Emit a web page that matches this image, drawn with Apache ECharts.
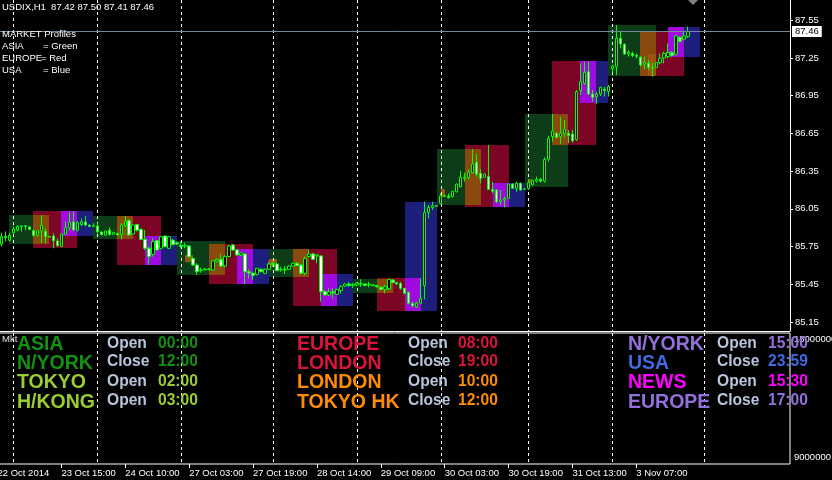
<!DOCTYPE html>
<html><head><meta charset="utf-8">
<script src="https://cdn.jsdelivr.net/npm/echarts@6/dist/echarts.min.js"></script>
<style>html,body{margin:0;padding:0;background:#000;}#c{width:832px;height:480px;}</style>
</head><body><div id="c"></div>
<script>
// ---- DATA ----
const opens = [85.77,85.83,85.80,85.86,85.88,85.91,85.915,85.905,85.875,85.84,85.876,85.87,85.83,85.834,85.794,85.75,85.85,85.90,85.945,85.88,85.925,85.945,85.92,85.91,85.913,85.866,85.84,85.88,85.847,85.855,85.847,85.916,85.956,85.85,85.925,85.887,85.807,85.736,85.688,85.797,85.736,85.834,85.736,85.80,85.78,85.76,85.755,85.754,85.656,85.603,85.56,85.565,85.57,85.563,85.635,85.648,85.595,85.67,85.762,85.723,85.683,85.691,85.55,85.537,85.529,85.569,85.537,85.569,85.611,85.611,85.565,85.568,85.569,85.595,85.617,85.603,85.537,85.67,85.691,85.675,85.675,85.391,85.365,85.391,85.37,85.40,85.436,85.452,85.44,85.445,85.455,85.452,85.445,85.445,85.438,85.426,85.41,85.415,85.484,85.463,85.457,85.418,85.386,85.298,85.27,85.30,85.44,86.02,86.062,86.075,86.094,86.15,86.15,86.147,86.186,86.226,86.29,86.298,86.34,86.42,86.332,86.30,86.306,86.205,86.2,86.107,86.12,86.133,86.247,86.213,86.253,86.205,86.21,86.24,86.27,86.284,86.27,86.443,86.624,86.65,86.624,86.65,86.65,86.645,86.60,86.99,87.05,87.141,86.963,86.94,86.963,87.0,86.985,87.165,87.18,87.406,87.358,87.281,87.286,87.27,87.255,87.2,87.207,87.175,87.175,87.212,87.25,87.26,87.294,87.28,87.414,87.40,87.42];
const highs = [85.86,85.87,85.86,85.91,85.92,85.915,85.915,85.91,85.887,85.88,86.00,85.895,85.835,85.855,85.815,85.855,85.95,86.02,86.027,85.95,85.974,85.993,85.925,85.935,85.935,85.87,85.88,85.903,85.866,85.858,85.935,85.993,85.966,85.925,85.93,85.895,85.882,85.749,85.815,85.80,85.835,85.84,85.835,85.81,85.79,85.79,85.78,85.762,85.665,85.617,85.582,85.58,85.58,85.64,85.655,85.691,85.683,85.762,85.77,85.73,85.705,85.696,85.569,85.55,85.58,85.575,85.575,85.63,85.63,85.615,85.59,85.595,85.60,85.62,85.625,85.61,85.67,85.723,85.70,85.69,85.68,85.405,85.418,85.418,85.415,85.444,85.46,85.47,85.46,85.465,85.49,85.455,85.47,85.45,85.445,85.43,85.444,85.495,85.49,85.47,85.47,85.42,85.39,85.31,85.31,85.497,86.107,86.08,86.107,86.08,86.173,86.16,86.173,86.19,86.25,86.353,86.337,86.364,86.526,86.486,86.364,86.33,86.557,86.266,86.205,86.2,86.147,86.25,86.25,86.266,86.26,86.215,86.284,86.28,86.306,86.295,86.459,86.629,86.804,86.66,86.783,86.756,86.677,86.677,86.995,87.207,87.22,87.22,86.995,86.98,87.021,87.02,87.035,87.194,87.512,87.459,87.365,87.313,87.30,87.286,87.265,87.26,87.233,87.212,87.215,87.286,87.30,87.366,87.305,87.432,87.42,87.459,87.50];
const lows = [85.75,85.79,85.79,85.855,85.87,85.87,85.88,85.88,85.829,85.83,85.78,85.776,85.82,85.736,85.749,85.745,85.842,85.88,85.876,85.87,85.913,85.913,85.905,85.905,85.855,85.84,85.835,85.839,85.845,85.84,85.807,85.908,85.84,85.845,85.87,85.80,85.723,85.603,85.67,85.72,85.73,85.745,85.73,85.76,85.765,85.736,85.736,85.669,85.60,85.524,85.542,85.56,85.56,85.56,85.625,85.59,85.585,85.665,85.717,85.68,85.672,85.452,85.497,85.484,85.52,85.545,85.53,85.563,85.59,85.555,85.55,85.532,85.565,85.59,85.595,85.53,85.524,85.665,85.645,85.617,85.312,85.36,85.357,85.338,85.365,85.378,85.43,85.43,85.42,85.435,85.43,85.435,85.426,85.435,85.425,85.405,85.378,85.405,85.46,85.445,85.405,85.37,85.29,85.265,85.262,85.295,85.33,85.974,86.04,86.065,86.088,86.145,86.13,86.14,86.18,86.22,86.266,86.284,86.332,86.306,86.253,86.295,86.2,86.173,86.094,86.08,86.062,86.13,86.21,86.186,86.195,86.2,86.2,86.235,86.258,86.26,86.258,86.425,86.584,86.61,86.565,86.618,86.571,86.576,86.59,86.955,87.035,86.955,86.902,86.884,86.947,86.942,86.942,87.133,87.114,87.326,87.275,87.26,87.255,87.247,87.18,87.16,87.154,87.1,87.17,87.2,87.207,87.247,87.26,87.27,87.375,87.39,87.41];
const closes = [85.83,85.82,85.84,85.89,85.91,85.915,85.91,85.887,85.84,85.876,85.92,85.83,85.826,85.797,85.757,85.85,85.90,85.94,85.882,85.94,85.948,85.921,85.91,85.915,85.868,85.845,85.874,85.845,85.863,85.842,85.921,85.953,85.842,85.921,85.88,85.807,85.736,85.67,85.789,85.723,85.829,85.749,85.829,85.765,85.77,85.75,85.76,85.669,85.603,85.55,85.565,85.57,85.568,85.635,85.648,85.595,85.67,85.754,85.723,85.683,85.70,85.55,85.54,85.521,85.577,85.55,85.569,85.611,85.617,85.558,85.57,85.563,85.595,85.617,85.60,85.537,85.656,85.691,85.648,85.683,85.391,85.365,85.391,85.38,85.41,85.431,85.452,85.44,85.45,85.46,85.452,85.44,85.45,85.44,85.43,85.41,85.43,85.489,85.465,85.452,85.418,85.378,85.30,85.28,85.30,85.338,86.02,86.062,86.075,86.07,86.152,86.155,86.14,86.189,86.247,86.30,86.30,86.34,86.406,86.327,86.292,86.327,86.205,86.19,86.107,86.12,86.13,86.247,86.213,86.253,86.2,86.21,86.258,86.274,86.284,86.27,86.443,86.61,86.669,86.62,86.65,86.682,86.634,86.592,86.982,87.061,87.133,86.963,86.937,86.96,87.016,86.99,87.021,87.186,87.406,87.361,87.281,87.294,87.27,87.263,87.194,87.215,87.175,87.17,87.212,87.247,87.286,87.294,87.27,87.424,87.38,87.424,87.46];

// session boxes: bar range, price range, kind (0 Asia, 1 Europe, 2 USA, 3 London/Tokyo overlap, 4 N.York/Europe overlap, 5 Tokyo open patch)
const boxStart = [2,8,15,8,15, 23,29,36,29,36, 44,52,59,52,59, 67,73,80,73,80, 88,94,101,94,101, 109,116,123,116,123, 131,138,145,138,145, 152,160,167,160,167, 46,67,110,132,162];
const boxEnd   = [12,19,23,12,19, 33,40,44,33,40, 56,63,67,56,63, 77,84,88,77,84, 98,105,109,98,105, 120,127,131,120,127, 142,149,152,142,149, 164,171,175,164,171, 48,69,111,133,164];
const boxHigh  = [86.001,86.033,86.033,86.001,86.033, 85.993,85.993,85.834,85.993,85.834, 85.794,85.770,85.731,85.770,85.731, 85.731,85.731,85.532,85.731,85.532, 85.492,85.498,86.107,85.492,85.498, 86.526,86.557,86.256,86.526,86.256, 86.805,87.225,87.225,86.805,87.225, 87.512,87.464,87.498,87.464,87.498, 85.68,85.65,86.207,86.287,87.28];
const boxLow   = [85.770,85.738,85.834,85.770,85.834, 85.808,85.603,85.603,85.808,85.603, 85.524,85.452,85.452,85.524,85.452, 85.510,85.277,85.277,85.510,85.277, 85.380,85.237,85.237,85.380,85.237, 86.080,86.067,86.067,86.080,86.067, 86.226,86.557,86.889,86.557,86.889, 87.109,87.109,87.260,87.109,87.260, 85.63,85.59,86.144,86.255,87.11];
const boxKind  = [0,1,2,3,4, 0,1,2,3,4, 0,1,2,3,4, 0,1,2,3,4, 0,1,2,3,4, 0,1,2,3,4, 0,1,2,3,4, 0,1,2,3,4, 5,5,5,5,5];

const daySeparators = [3,24,45,68,89,110,132,153,176];
const tickBars = [-1,15,31,47,63,79,95,111,127,143,159];
const tickLabels = ["22 Oct 2014","23 Oct 15:00","24 Oct 10:00","27 Oct 03:00","27 Oct 19:00","28 Oct 14:00","29 Oct 09:00","30 Oct 03:00","30 Oct 19:00","31 Oct 13:00","3 Nov 07:00"];
const priceTicks = [85.15,85.45,85.75,86.05,86.35,86.65,86.95,87.25,87.55];
const lastPrice = 87.46;
const panelTicks = [9000000,18000000];

const panelNames = [["ASIA","N/YORK","TOKYO","H/KONG"],["EUROPE","LONDON","LONDON","TOKYO HK"],["N/YORK","USA","NEWS","EUROPE"]];
const panelActs  = [["Open","Close","Open","Open"],["Open","Close","Open","Close"],["Open","Close","Open","Close"]];
const panelTimes = [["00:00","12:00","02:00","03:00"],["08:00","19:00","10:00","12:00"],["15:00","23:59","15:30","17:00"]];

// ---- STYLE ----
const boxColors = ['#0c3c18','#7c0424','#1e1e7c','#8a4a0e','#a00ae0','#9a560f'];
const panelColors = [["#129212","#129212","#9acd32","#9acd32"],["#dc143c","#dc143c","#ff8c00","#ff8c00"],["#9370db","#4169e1","#ff00ff","#9370db"]];
const FONT = '"Liberation Sans", Arial, sans-serif';

const NCAT = 199;
const cats = [];
for (let j = 0; j < NCAT; j++) {
  const k = tickBars.indexOf(j - 1);
  cats.push(k >= 0 ? tickLabels[k] : 'b' + (j - 1));
}
const labelIdx = new Set(tickBars.map(b => b + 1));
const cat = b => b + 1;

const candleData = opens.map((o, i) => [cat(i), o, closes[i], lows[i], highs[i]]);
const boxData = boxStart.map((s, i) => [cat(s), cat(boxEnd[i]), boxLow[i], boxHigh[i], boxKind[i]]);
const sepData = daySeparators.map(b => [cat(b)]);

function sepRender(params, api) {
  const x = Math.round(api.coord([api.value(0), 0])[0]) + 0.5;
  const cs = params.coordSys;
  return {type: 'line', shape: {x1: x, y1: cs.y, x2: x, y2: cs.y + cs.height},
          style: {stroke: '#ffffff', lineWidth: 1, lineDash: [3, 3]}};
}

const graphics = [];
function txt(x, y, text, fill, font) {
  graphics.push({type: 'text', x: x, y: y, z: 100, silent: true,
    style: {text: text, fill: fill, font: font, verticalAlign: 'top', align: 'left'}});
}
const small = '9.5px ' + FONT;
txt(2, 2.7, 'USDIX,H1  87.42 87.50 87.41 87.46', '#ffffff', small);
txt(2, 29, 'MARKET Profiles', '#ffffff', small);
txt(2, 41.3, 'ASIA', '#ffffff', small); txt(43, 41.3, '= Green', '#ffffff', small);
txt(2, 53, 'EUROPE', '#ffffff', small); txt(41, 53, '= Red', '#ffffff', small);
txt(2, 65.3, 'USA', '#ffffff', small); txt(43, 65.3, '= Blue', '#ffffff', small);
txt(2, 334, 'Mkt', '#e0e0e0', small);
const colName = [17, 297, 628], colAct = [107, 408, 717], colTime = [158, 458, 768];
const rowTop = [335, 353.5, 373, 392.5];
for (let c = 0; c < 3; c++) {
  for (let r = 0; r < 4; r++) {
    txt(colName[c], rowTop[r], panelNames[c][r], panelColors[c][r], 'bold 19.5px ' + FONT);
    txt(colAct[c], rowTop[r] + 0.5, panelActs[c][r], '#b8c4dc', 'bold 15.6px ' + FONT);
    txt(colTime[c], rowTop[r] + 0.5, panelTimes[c][r], panelColors[c][r], 'bold 15.6px ' + FONT);
  }
}
graphics.push({type: 'polygon', z: 100, silent: true, shape: {points: [[688, 0], [698, 0], [693, 5]]}, style: {fill: '#808080'}});

const chart = echarts.init(document.getElementById('c'), null, {renderer: 'canvas'});
chart.setOption({
  backgroundColor: '#000000',
  animation: false,
  textStyle: {fontFamily: FONT},
  grid: [
    {left: -4.5, right: 42, top: 0, height: 331, containLabel: false, outerBoundsMode: 'none'},
    {left: -4.5, right: 42, top: 333, height: 131, containLabel: false, outerBoundsMode: 'none',
     show: true, borderColor: '#ffffff', borderWidth: 1}
  ],
  xAxis: [
    {type: 'category', gridIndex: 0, data: cats, boundaryGap: true,
     axisLine: {show: true, lineStyle: {color: '#ffffff'}}, axisTick: {show: false}, axisLabel: {show: false}, splitLine: {show: false}},
    {type: 'category', gridIndex: 1, data: cats, boundaryGap: true,
     axisLine: {show: false},
     axisTick: {show: true, alignWithLabel: true, length: 4, interval: (i) => labelIdx.has(i), lineStyle: {color: '#ffffff'}},
     axisLabel: {show: true, interval: (i) => labelIdx.has(i), align: 'left', margin: 4, color: '#ffffff', fontSize: 9.5, fontFamily: FONT,
                 hideOverlap: false, formatter: (v) => v},
     splitLine: {show: false}}
  ],
  yAxis: [
    {type: 'value', gridIndex: 0, position: 'right', min: 85.0784, max: 87.7106, scale: true,
     axisLine: {show: true, lineStyle: {color: '#ffffff'}},
     axisTick: {show: true, length: 3, customValues: priceTicks, lineStyle: {color: '#ffffff'}},
     axisLabel: {show: true, customValues: priceTicks, margin: 5, color: '#ffffff', fontSize: 9.5, fontFamily: FONT,
                 formatter: (v) => Number(v).toFixed(2)},
     splitLine: {show: false}},
    {type: 'value', gridIndex: 1, position: 'right', min: 8521000, max: 18479000,
     axisLine: {show: false}, axisTick: {show: false},
     axisLabel: {show: true, customValues: panelTicks, margin: 4, color: '#ffffff', fontSize: 9.5, fontFamily: FONT,
                 formatter: (v) => String(v)},
     splitLine: {show: false}}
  ],
  series: [
    {type: 'custom', name: 'sessions', xAxisIndex: 0, yAxisIndex: 0, z: 1, silent: true,
     encode: {x: [0, 1], y: [2, 3]},
     data: boxData,
     renderItem: (params, api) => {
       const p1 = api.coord([api.value(0), api.value(3)]);
       const p2 = api.coord([api.value(1), api.value(2)]);
       const x1 = Math.round(p1[0]), x2 = Math.round(p2[0]);
       const y1 = Math.round(p1[1]), y2 = Math.round(p2[1]);
       return {type: 'rect', shape: {x: x1, y: y1, width: x2 - x1, height: y2 - y1},
               style: {fill: boxColors[api.value(4)]}};
     }},
    {type: 'custom', name: 'sep0', xAxisIndex: 0, yAxisIndex: 0, z: 2, silent: true,
     encode: {x: 0}, data: sepData, renderItem: sepRender},
    {type: 'custom', name: 'sep1', xAxisIndex: 1, yAxisIndex: 1, z: 2, silent: true,
     encode: {x: 0}, data: sepData, renderItem: sepRender},
    {type: 'candlestick', name: 'USDIX', xAxisIndex: 0, yAxisIndex: 0, z: 3, silent: true,
     encode: {x: 0, y: [1, 2, 3, 4]},
     data: candleData,
     barWidth: 3,
     itemStyle: {color: '#000000', color0: '#ffffff', borderColor: '#00ff00', borderColor0: '#00ff00', borderColorDoji: '#00ff00', borderWidth: 1},
     markLine: {silent: true, symbol: ['none', 'none'], z: 4,
       lineStyle: {color: '#778899', type: 'solid', width: 1},
       label: {show: true, position: 'end', formatter: lastPrice.toFixed(2), backgroundColor: '#ffffff', color: '#000000',
               fontSize: 9.5, fontFamily: FONT, padding: [1, 3, 0, 3], distance: 2},
       data: [{yAxis: lastPrice}]}}
  ],
  graphic: graphics
});
</script></body></html>
